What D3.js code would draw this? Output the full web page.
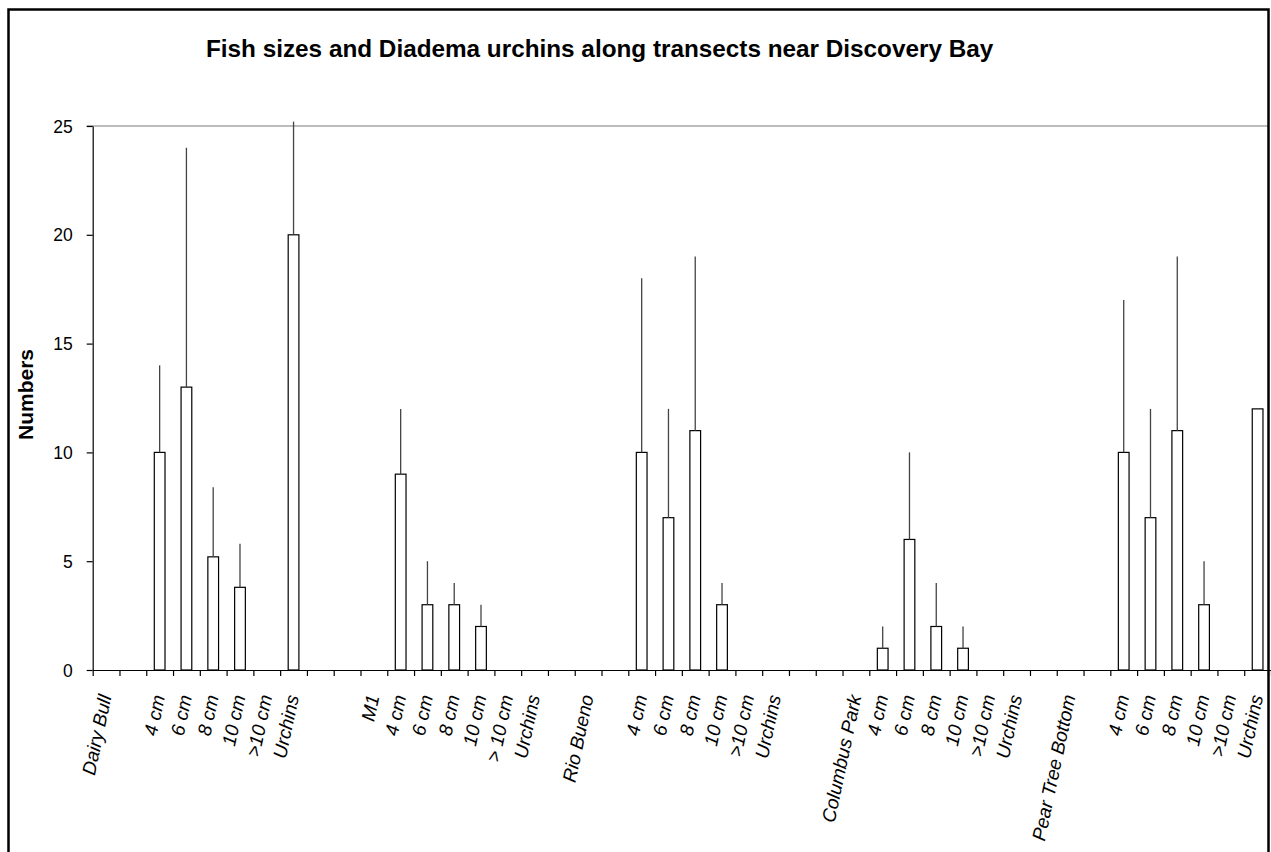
<!DOCTYPE html>
<html>
<head>
<meta charset="utf-8">
<script src="https://cdn.jsdelivr.net/npm/d3@7"></script>
<style>
    body { margin: 0; background: #fff; }
    svg { font-family: Arial, "Liberation Sans", sans-serif; }
</style>
</head>
<body>
<div id="chart"></div>
<script>
// categories along the x axis (blank ones are spacers)
const categories = ["Dairy Bull", "", "4 cm", "6 cm", "8 cm", "10 cm", ">10 cm", "Urchins", "", "",
    "M1", "4 cm", "6 cm", "8 cm", "10 cm", "> 10 cm", "Urchins", "",
    "Rio Bueno", "", "4 cm", "6 cm", "8 cm", "10 cm", ">10 cm", "Urchins", "", "",
    "Columbus Park", "4 cm", "6 cm", "8 cm", "10 cm", ">10 cm", "Urchins", "",
    "Pear Tree Bottom", "", "4 cm", "6 cm", "8 cm", "10 cm", ">10 cm", "Urchins"];

// mean numbers (null = no bar)
const values = [null, null, 10, 13, 5.2, 3.8, null, 20, null, null,
    null, 9, 3, 3, 2, null, null, null,
    null, null, 10, 7, 11, 3, null, null, null, null,
    null, 1, 6, 2, 1, null, null, null,
    null, null, 10, 7, 11, 3, null, 12];

// upper error (added on top of the bar)
const errors = [null, null, 4, 11, 3.2, 2, null, 5.2, null, null,
    null, 3, 2, 1, 1, null, null, null,
    null, null, 8, 5, 8, 1, null, null, null, null,
    null, 1, 4, 2, 1, null, null, null,
    null, null, 7, 5, 8, 2, null, null];

const yTicks = [0, 5, 10, 15, 20, 25];

const W = 1271, H = 852;
const plot = {left: 92.7, right: 1271, top: 126, bottom: 670};

let svg = d3.select("#chart").append("svg")
    .attr("width", W)
    .attr("height", H);

let idx = d3.range(categories.length);

let x = d3.scaleBand()
    .domain(idx)
    .range([plot.left, plot.right])
    .padding(0);

// boundaries between categories (excel style ticks)
let xEdge = d3.scaleLinear()
    .domain([0, categories.length])
    .range([plot.left, plot.right]);

let y = d3.scaleLinear()
    .domain([0, 25])
    .range([plot.bottom, plot.top]);

// top gridline
svg.append("line")
    .attr("x1", plot.left - 6).attr("x2", 1268)
    .attr("y1", y(25)).attr("y2", y(25))
    .style("stroke", "#a6a6a6")
    .style("stroke-width", 1.3);

// y axis
let yAxis = svg.append("g")
    .attr("transform", "translate(" + plot.left + ",0)")
    .call(d3.axisLeft(y).tickValues(yTicks).tickSize(6).tickSizeOuter(0).tickPadding(14));
yAxis.selectAll("path, line").style("stroke", "#000").style("stroke-width", 1.2);
yAxis.selectAll("text").style("font-size", "17.5px").style("fill", "#000").attr("dy", "0.35em");

// axis title
svg.append("text")
    .attr("transform", "translate(33,440) rotate(-90)")
    .style("font-size", "21px")
    .style("font-weight", "bold")
    .text("Numbers");

// bars
let bw = x.bandwidth();
let barData = idx.filter(function(i) { return values[i] !== null; });

svg.append("g").selectAll("rect")
    .data(barData)
    .enter().append("rect")
    .attr("x", function(i) { return x(i) + bw * 0.3; })
    .attr("width", bw * 0.4)
    .attr("y", function(i) { return y(values[i]); })
    .attr("height", function(i) { return y(0) - y(values[i]); })
    .style("fill", "#fff")
    .style("stroke", "#000")
    .style("stroke-width", 1.2);

// error bars
svg.append("g").selectAll("line")
    .data(barData.filter(function(i) { return errors[i] !== null; }))
    .enter().append("line")
    .attr("x1", function(i) { return x(i) + bw / 2; })
    .attr("x2", function(i) { return x(i) + bw / 2; })
    .attr("y1", function(i) { return y(values[i]); })
    .attr("y2", function(i) { return y(values[i] + errors[i]); })
    .style("stroke", "#444")
    .style("stroke-width", 1.3);

// x axis line + boundary ticks
let xAxis = svg.append("g")
    .attr("transform", "translate(0," + plot.bottom + ")")
    .call(d3.axisBottom(xEdge).tickValues(d3.range(0, categories.length + 1)).tickSize(6).tickSizeOuter(0).tickFormat(""));
xAxis.selectAll("path, line").style("stroke", "#000").style("stroke-width", 1.2);

// category labels
let xLabels = svg.append("g")
    .attr("transform", "translate(0," + plot.bottom + ")")
    .call(d3.axisBottom(x).tickSize(0).tickFormat(function(i) { return categories[i]; }));
xLabels.select(".domain").remove();
xLabels.selectAll("text")
    .attr("x", 0).attr("y", 0).attr("dy", "0.35em")
    .attr("transform", "translate(-1,25) rotate(-78)")
    .style("text-anchor", "end")
    .style("font-size", "19px")
    .style("font-style", "italic")
    .style("fill", "#000");

// title
svg.append("text")
    .attr("x", 206)
    .attr("y", 57)
    .style("font-size", "24.3px")
    .style("font-weight", "bold")
    .text("Fish sizes and Diadema urchins along transects near Discovery Bay");

// chart border
svg.append("rect")
    .attr("x", 8.5).attr("y", 9.5)
    .attr("width", 1260).attr("height", 900)
    .style("fill", "none")
    .style("stroke", "#000")
    .style("stroke-width", 2.5);
</script>
</body>
</html>
